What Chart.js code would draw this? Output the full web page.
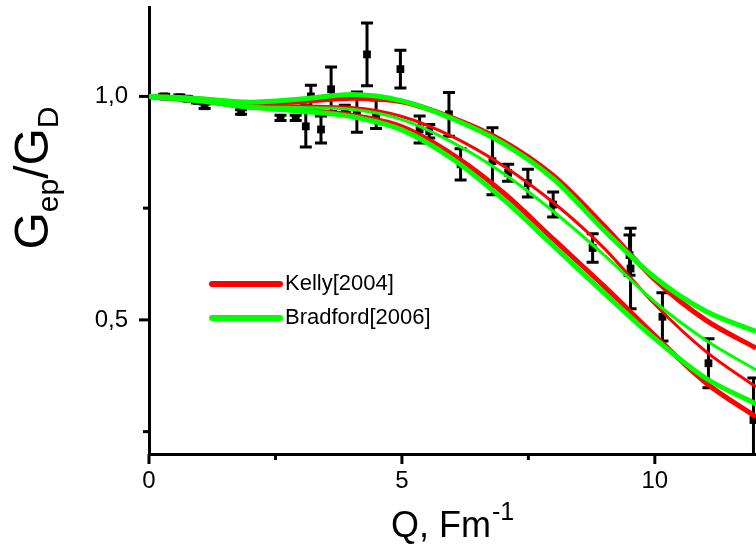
<!DOCTYPE html>
<html><head><meta charset="utf-8">
<script src="https://cdn.jsdelivr.net/npm/chart.js@4/dist/chart.umd.min.js"></script>
<style>html,body{margin:0;padding:0;background:#fff}#wrap{width:756px;height:547px;position:relative}</style>
</head><body><div id="wrap"><canvas id="c" width="756" height="547"></canvas></div>
<script>
// Curve samples (Q in fm^-1)
const qGrid = [0,1,2,3,4,5,6,7,8,9,10,11,12];
const kellyUpper = [1.0,0.994,0.984,0.988,0.996,0.988,0.952,0.900,0.822,0.710,0.590,0.500,0.437];
const kellyMid   = [1.0,0.990,0.980,0.978,0.975,0.955,0.910,0.845,0.762,0.660,0.535,0.430,0.350];
const kellyLower = [1.0,0.990,0.976,0.969,0.958,0.932,0.870,0.785,0.680,0.575,0.465,0.360,0.283];
const bradUpper  = [1.0,0.995,0.987,0.994,1.004,0.990,0.950,0.895,0.815,0.700,0.595,0.520,0.474];
const bradMid    = [1.0,0.990,0.978,0.975,0.971,0.948,0.897,0.828,0.742,0.645,0.540,0.455,0.388];
const bradLower  = [1.0,0.990,0.976,0.967,0.955,0.925,0.860,0.770,0.665,0.560,0.458,0.370,0.312];
// Experimental points
const qExp = [0.3,0.6,0.75,0.95,1.1,1.82,2.6,2.9,3.1,3.2,3.4,3.6,3.87,4.11,4.31,4.49,4.97,5.35,5.54,5.93,6.16,6.79,7.1,7.49,7.99,8.77,9.5,9.52,10.15,11.06,11.95];
const gExp = [1.0,0.998,0.995,0.99,0.978,0.965,0.952,0.952,0.933,1.0,0.926,1.016,0.972,0.965,1.094,0.96,1.061,0.926,0.922,0.96,0.848,0.855,0.829,0.806,0.758,0.661,0.645,0.615,0.507,0.403,0.276];
const gErr = [0.005,0.005,0.005,0.005,0.005,0.005,0.006,0.006,0.046,0.025,0.03,0.05,0.008,0.045,0.07,0.032,0.042,0.03,0.015,0.049,0.035,0.075,0.019,0.031,0.028,0.032,0.045,0.09,0.054,0.055,0.094];
// Ticks
const xTickValues = [0,2.5,5,7.5,10];
const xTickLabels = ['0','','5','','10'];
const yTickValues = [0.25,0.5,0.75,1.0];
const yTickLabels = ['','0,5','','1,0'];
const legendLabels = ['Kelly[2004]','Bradford[2006]'];

const FONT = "'Liberation Sans', Arial, sans-serif";
const RED = '#ff0000', GREEN = '#00ff00';
const pts = (ys) => qGrid.map((q,i)=>({x:q,y:ys[i]}));
const curve = (ys,color,w,order) => ({data:pts(ys),showLine:true,borderColor:color,backgroundColor:color,borderWidth:w,pointRadius:0,cubicInterpolationMode:'monotone',order:order});

const decor = {
  id:'decor',
  beforeDatasetsDraw(chart){
    const {ctx, chartArea:a, scales:{x,y}} = chart;
    ctx.save();
    ctx.beginPath(); ctx.rect(a.left,a.top,a.right-a.left,a.bottom-a.top); ctx.clip();
    ctx.strokeStyle='#000'; ctx.lineWidth=3;
    for(let i=0;i<qExp.length;i++){
      const px=x.getPixelForValue(qExp[i]);
      const yt=y.getPixelForValue(gExp[i]+gErr[i]);
      const yb=y.getPixelForValue(gExp[i]-gErr[i]);
      ctx.beginPath();
      ctx.moveTo(px,yt); ctx.lineTo(px,yb);
      ctx.moveTo(px-6,yt); ctx.lineTo(px+6,yt);
      ctx.moveTo(px-6,yb); ctx.lineTo(px+6,yb);
      ctx.stroke();
    }
    ctx.restore();
  },
  afterDraw(chart){
    const {ctx, chartArea:a, scales:{x,y}} = chart;
    ctx.save();
    ctx.strokeStyle='#000'; ctx.lineWidth=3;
    xTickValues.forEach((v,i)=>{
      const px=x.getPixelForValue(v); const len = xTickLabels[i] ? 10 : 6;
      ctx.beginPath(); ctx.moveTo(px,a.bottom); ctx.lineTo(px,a.bottom+len); ctx.stroke();
    });
    yTickValues.forEach((v,i)=>{
      const py=y.getPixelForValue(v); const len = yTickLabels[i] ? 10 : 6;
      ctx.beginPath(); ctx.moveTo(a.left,py); ctx.lineTo(a.left-len,py); ctx.stroke();
    });
    // legend
    const lx0 = 212, lx1 = 280, ly = [284, 318], cols=[RED,GREEN];
    legendLabels.forEach((t,i)=>{
      ctx.strokeStyle=cols[i]; ctx.lineWidth=6; ctx.lineCap='round';
      ctx.beginPath(); ctx.moveTo(lx0,ly[i]); ctx.lineTo(lx1,ly[i]); ctx.stroke();
      ctx.fillStyle='#000'; ctx.font='22px '+FONT; ctx.textBaseline='middle'; ctx.textAlign='left';
      ctx.fillText(t, 285, ly[i]);
    });
    // x title
    ctx.fillStyle='#000'; ctx.textBaseline='alphabetic'; ctx.textAlign='left';
    const main='Q, Fm'; ctx.font='36px '+FONT; const w1=ctx.measureText(main).width;
    ctx.font='25px '+FONT; const w2=ctx.measureText('-1').width;
    const sx = 452 - (w1+w2)/2;
    ctx.font='36px '+FONT; ctx.fillText(main, sx, 537);
    ctx.font='25px '+FONT; ctx.fillText('-1', sx+w1+1, 520);
    // y title (rotated)
    ctx.translate(48, 178); ctx.rotate(-Math.PI/2);
    const parts=[['G',48,0],['ep',30,10],['/G',48,0],['D',30,10]];
    let tot=0; parts.forEach(p=>{ctx.font=p[1]+'px '+FONT; tot+=ctx.measureText(p[0]).width;});
    let cx=-tot/2;
    parts.forEach(p=>{ctx.font=p[1]+'px '+FONT; ctx.fillText(p[0],cx,p[2]); cx+=ctx.measureText(p[0]).width;});
    ctx.restore();
  }
};

new Chart(document.getElementById('c'), {
  type:'scatter',
  data:{datasets:[
    {data:qExp.map((q,i)=>({x:q,y:gExp[i]})),pointStyle:'rect',pointRadius:5.5,backgroundColor:'#000',borderColor:'#000',borderWidth:0,order:10},
    curve(kellyUpper,RED,5,6), curve(kellyMid,RED,3,6), curve(kellyLower,RED,5,6),
    curve(bradUpper,GREEN,5,2), curve(bradMid,GREEN,3,2), curve(bradLower,GREEN,5,2)
  ]},
  options:{
    responsive:false, animation:false, events:[],
    layout:{autoPadding:false, padding:{top:7,right:0,left:0,bottom:0}},
    plugins:{legend:{display:false},tooltip:{enabled:false}},
    scales:{
      x:{type:'linear',min:0,max:12,
        afterFit(s){s.height=93; s.paddingLeft=0; s.paddingRight=0; s.paddingTop=0; s.paddingBottom=0;},
        afterBuildTicks(s){s.ticks=xTickValues.map(v=>({value:v}));},
        grid:{display:false,drawTicks:false},
        border:{display:true,color:'#000',width:3},
        ticks:{autoSkip:false,maxRotation:0,padding:13,color:'#000',font:{family:FONT,size:24},
          callback:(v,i)=>xTickLabels[i]}
      },
      y:{type:'linear',min:0.2,max:1.2,
        afterFit(s){s.width=149; s.paddingLeft=0; s.paddingRight=0; s.paddingTop=0; s.paddingBottom=0;},
        afterBuildTicks(s){s.ticks=yTickValues.map(v=>({value:v}));},
        grid:{display:false,drawTicks:false},
        border:{display:true,color:'#000',width:3},
        ticks:{autoSkip:false,padding:21,color:'#000',font:{family:FONT,size:24},
          callback:(v,i)=>yTickLabels[i]}
      }
    }
  },
  plugins:[decor]
});
</script></body></html>
